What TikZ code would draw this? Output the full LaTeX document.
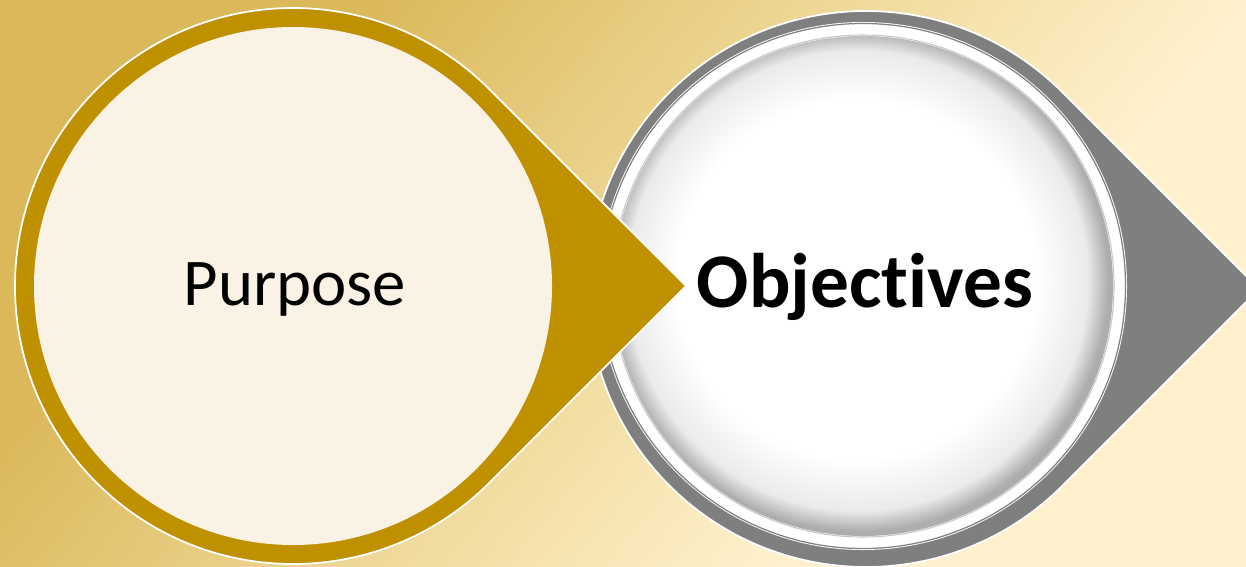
\documentclass[tikz,border=0pt]{standalone}
\usepackage{fontspec}
\setmainfont{Carlito}[Ligatures=NoCommon]
\usepackage{xcolor}
\usetikzlibrary{calc}

\definecolor{bggold}{RGB}{219,184,90}
\definecolor{bgmid}{RGB}{240,218,155}
\definecolor{bgcream}{RGB}{255,241,206}
\definecolor{ringgold}{RGB}{191,144,0}
\definecolor{purpfill}{RGB}{249,242,229}
\definecolor{objgray}{RGB}{127,127,127}
\pgfdeclarehorizontalshading{backdrop}{100bp}{color(0bp)=(bggold); color(30bp)=(bggold); color(50bp)=(bgmid); color(66bp)=(bgcream); color(100bp)=(bgcream)}
\pgfdeclareradialshading{objdisc}{\pgfpoint{-1bp}{1bp}}{color(0bp)=(white); color(18bp)=(white); color(23bp)=(black!8); color(25bp)=(black!32); color(50bp)=(black!32)}

\begin{document}
\begin{tikzpicture}[x=0.02cm,y=0.02cm,line join=round,
    drop/.style={draw=white,line width=1pt},
    label/.style={anchor=base,text=black}]
  \useasboundingbox (0,0) rectangle (1246,566);
  \clip (0,0) rectangle (1246,566);
  \shade[shading=backdrop,shading angle=-40] (0,0) rectangle (1246,566);
  \coordinate (pc) at (293,280);
  \coordinate (oc) at (866,277);
  % grey drop first, the gold tip lies on it
  \filldraw[drop,fill=objgray] ($(oc)+(393,0)$) -- ($(oc)+(45:278)$)
    arc[start angle=45,end angle=315,radius=278] -- cycle;
  \fill[white] (863,280) circle (264);
  \draw[black!50,line width=0.7pt] (863,280) circle (262.5);
  \draw[black!22,line width=0.6pt] (863,280) circle (251);
  \shade[shading=objdisc] (863,280) circle (250);
  % gold drop
  \filldraw[drop,fill=ringgold] ($(pc)+(393,0)$) -- ($(pc)+(45:278)$)
    arc[start angle=45,end angle=315,radius=278] -- cycle;
  \fill[purpfill] (pc) circle (259);
  \node[label,font=\fontsize{38}{40}\selectfont] (purpose) at (295,261) {Purpose};
  \node[label,font=\bfseries\fontsize{44}{46}\selectfont] (objectives) at (865,259) {Objectives};
\end{tikzpicture}
\end{document}
